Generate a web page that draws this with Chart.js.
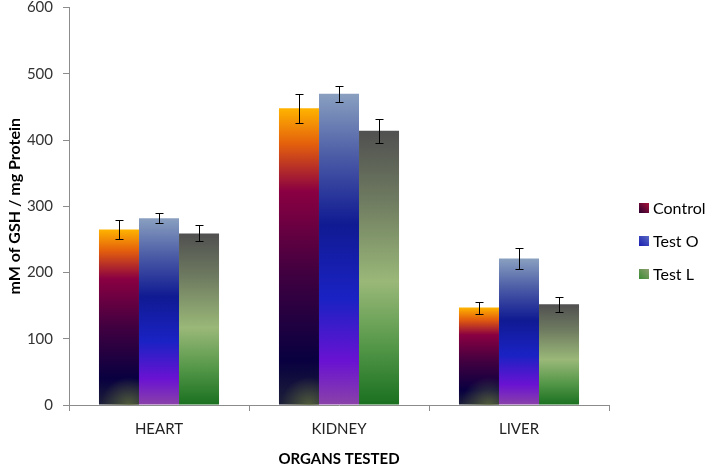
<!DOCTYPE html>
<html lang="en">
<head>
  <meta charset="utf-8">
  <title>GSH levels</title>
  <script src="https://cdn.jsdelivr.net/npm/chart.js"></script>
  <style>
    body { margin: 0; background: #fff; }
    #wrap { width: 708px; height: 465px; }
  </style>
</head>
<body>
  <div id="wrap"><canvas id="gshChart" width="708" height="465"></canvas></div>

  <script>
    // data
    const organs = ['HEART', 'KIDNEY', 'LIVER'];
    const control = [265, 448, 147];
    const testO = [282, 470, 221];
    const testL = [259, 414, 152];
    const controlErr = [15, 22, 9];
    const testOErr = [8, 12, 16];
    const testLErr = [12, 18, 11];
    const yTicks = [0, 100, 200, 300, 400, 500, 600];

    const FONT = 'Lato, "Liberation Sans", sans-serif';

    const controlStops = [[0, '#ffb400'], [0.12, '#e4600c'], [0.28, '#8a0042'], [0.55, '#420040'], [0.85, '#080040'], [1, '#1e2038']];
    const testOStops = [[0, '#8aa0c0'], [0.2, '#4c5ca6'], [0.42, '#101a92'], [0.66, '#1a22c4'], [0.86, '#6a12d2'], [1, '#8a42a8']];
    const testLStops = [[0, '#505050'], [0.25, '#6e7a60'], [0.55, '#9ab878'], [0.78, '#56984a'], [1, '#1a7020']];

    // small gradients for the legend squares
    const legendStops = [
      [[0, '#a8143c'], [1, '#2a0030']],
      [[0, '#5a6ac4'], [1, '#1a1eb0']],
      [[0, '#8ea070'], [1, '#3a8a34']]
    ];

    // vertical gradient per bar, from bar top down to the zero line
    function barFill(stops) {
      return function (ctx) {
        const chart = ctx.chart;
        if (ctx.type !== 'data' || !chart.chartArea) return stops[2][1];
        const y = chart.scales.y;
        const top = y.getPixelForValue(ctx.raw);
        const base = y.getPixelForValue(0);
        const g = chart.ctx.createLinearGradient(0, top, 0, base);
        stops.forEach(s => g.addColorStop(s[0], s[1]));
        return g;
      };
    }

    const errors = [controlErr, testOErr, testLErr];

    const extras = {
      id: 'extras',
      afterDatasetsDraw(chart) {
        const c = chart.ctx;
        const y = chart.scales.y;
        const base = y.getPixelForValue(0);
        c.save();

        // faint olive glow in the lower right corner of the Control bars
        chart.getDatasetMeta(0).data.forEach(bar => {
          const left = bar.x - bar.width / 2;
          const cx = bar.x + bar.width * 0.25;
          const r = bar.width * 0.7;
          const g = c.createRadialGradient(cx, base, 0, cx, base, r);
          g.addColorStop(0, 'rgba(96,110,60,0.75)');
          g.addColorStop(1, 'rgba(96,110,60,0)');
          c.fillStyle = g;
          c.fillRect(left, base - r, bar.width, r);
        });

        // error bars
        c.strokeStyle = '#000';
        c.lineWidth = 1;
        chart.data.datasets.forEach((ds, i) => {
          chart.getDatasetMeta(i).data.forEach((bar, j) => {
            const hi = Math.round(y.getPixelForValue(ds.data[j] + errors[i][j])) + 0.5;
            const lo = Math.round(y.getPixelForValue(ds.data[j] - errors[i][j])) + 0.5;
            const x = Math.round(bar.x) + 0.5;
            c.beginPath();
            c.moveTo(x, hi); c.lineTo(x, lo);
            c.moveTo(x - 4, hi); c.lineTo(x + 4, hi);
            c.moveTo(x - 4, lo); c.lineTo(x + 4, lo);
            c.stroke();
          });
        });
        c.restore();
      },
      afterDraw(chart) {
        // legend on the right, in the space kept free by layout padding
        const c = chart.ctx;
        const x = chart.chartArea.right + 30;
        const mid = chart.height / 2 + 8;
        c.save();
        c.font = '16px ' + FONT;
        c.textBaseline = 'middle';
        chart.data.datasets.forEach((ds, i) => {
          const yc = Math.round(mid + (i - 1) * 33);
          const g = c.createLinearGradient(x + 10, yc - 5, x, yc + 5);
          legendStops[i].forEach(s => g.addColorStop(s[0], s[1]));
          c.fillStyle = g;
          c.fillRect(x, yc - 5, 10, 10);
          c.fillStyle = '#000';
          c.fillText(ds.label, x + 14, yc + 1);
        });
        c.restore();
      }
    };

    new Chart(document.getElementById('gshChart').getContext('2d'), {
      type: 'bar',
      data: {
        labels: organs,
        datasets: [
          { label: 'Control', data: control, backgroundColor: barFill(controlStops) },
          { label: 'Test O', data: testO, backgroundColor: barFill(testOStops) },
          { label: 'Test L', data: testL, backgroundColor: barFill(testLStops) }
        ]
      },
      options: {
        responsive: false,
        animation: false,
        layout: { padding: { top: 0, right: 99, bottom: -3, left: 0 } },
        datasets: { bar: { barPercentage: 1, categoryPercentage: 0.667 } },
        plugins: {
          tooltip: { enabled: false },
          legend: { display: false }
        },
        scales: {
          x: {
            border: { color: '#8c8c8c' },
            grid: { drawOnChartArea: false, tickLength: 6, color: '#8c8c8c' },
            ticks: { color: '#222', padding: 9, font: { family: FONT, size: 15 } },
            title: { display: true, text: 'ORGANS TESTED', color: '#000', padding: { top: 3, bottom: 0 }, font: { family: FONT, size: 15, weight: 'bold' } }
          },
          y: {
            min: 0,
            max: 600,
            afterBuildTicks: axis => { axis.ticks = yTicks.map(v => ({ value: v })); },
            afterFit: axis => { axis.width = 69; },
            border: { color: '#8c8c8c' },
            // long tick with a dashed gap keeps the labels clear of the 6px tick mark
            grid: { drawOnChartArea: false, tickLength: 16, tickBorderDash: [6, 10], tickBorderDashOffset: 6, color: '#8c8c8c' },
            ticks: { color: '#333', padding: 0, font: { family: FONT, size: 15, lineHeight: 1 } },
            title: { display: true, text: 'mM of GSH / mg Protein', color: '#000', padding: { top: 5, bottom: 2 }, font: { family: FONT, size: 16, weight: 'bold' } }
          }
        }
      },
      plugins: [extras]
    });
  </script>
</body>
</html>
